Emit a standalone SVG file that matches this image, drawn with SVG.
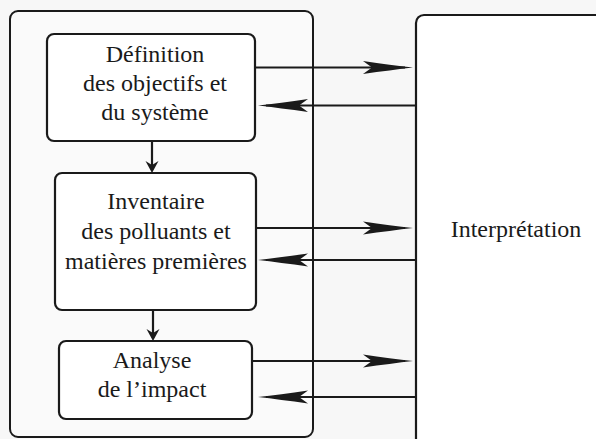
<svg xmlns="http://www.w3.org/2000/svg" width="596" height="439" viewBox="0 0 596 439">
<style>
.box{fill:#ffffff;stroke:#1a1a1a;stroke-width:2.2}
.outer{fill:#fafafa;stroke:#1a1a1a;stroke-width:2}
.lbl{font-size:24px;fill:#1a1a1a;text-anchor:middle}
.ln{stroke:#1a1a1a;stroke-width:2.2;fill:none}
</style>
<defs>
<marker id="big" markerUnits="userSpaceOnUse" viewBox="-52 -8 54 16" markerWidth="54" markerHeight="16" refX="-8" refY="0" orient="auto">
<path d="M0,0 Q-22,-2.5 -50,-6.5 L-41,0 L-50,6.5 Q-22,2.5 0,0 Z" fill="#1a1a1a"/>
</marker>
<marker id="small" markerUnits="userSpaceOnUse" viewBox="-13 -8 14 16" markerWidth="14" markerHeight="16" refX="-3" refY="0" orient="auto">
<path d="M0,0 L-12,-6.5 L-8,0 L-12,6.5 Z" fill="#1a1a1a"/>
</marker>
</defs>
<rect width="596" height="439" fill="#f7f7f7"/>
<g id="phases">
<rect class="outer" x="10" y="11" width="303" height="426" rx="8"/>
</g>
<g font-family="'Liberation Serif', 'Times New Roman', 'DejaVu Serif', serif">
<g id="interpretation">
<rect class="box" x="416" y="15" width="200" height="440" rx="8"/>
<text class="lbl" x="516" y="237">Interprétation</text>
</g>
<g id="definition">
<rect class="box" x="47" y="34" width="208" height="107" rx="7"/>
<text class="lbl" x="155" y="62">Définition</text>
<text class="lbl" x="155" y="91">des objectifs et</text>
<text class="lbl" x="155" y="120">du système</text>
</g>
<g id="inventaire">
<rect class="box" x="55" y="173" width="201" height="137" rx="7"/>
<text class="lbl" x="156" y="209">Inventaire</text>
<text class="lbl" x="156" y="239">des polluants et</text>
<text class="lbl" x="156" y="269">matières premières</text>
</g>
<g id="analyse">
<rect class="box" x="59" y="341" width="193" height="78" rx="7"/>
<text class="lbl" x="152" y="368">Analyse</text>
<text class="lbl" x="152" y="397">de l’impact</text>
</g>
</g>
<g id="connectors">
<line class="ln" x1="152" y1="142" x2="152" y2="170" marker-end="url(#small)"/>
<line class="ln" x1="153" y1="311" x2="153" y2="338" marker-end="url(#small)"/>
<line class="ln" x1="255" y1="67.5" x2="405" y2="67.5" marker-end="url(#big)"/>
<line class="ln" x1="416" y1="105.5" x2="266" y2="105.5" marker-end="url(#big)"/>
<line class="ln" x1="256" y1="228" x2="405" y2="228" marker-end="url(#big)"/>
<line class="ln" x1="416" y1="260" x2="266" y2="260" marker-end="url(#big)"/>
<line class="ln" x1="252" y1="361" x2="405" y2="361" marker-end="url(#big)"/>
<line class="ln" x1="416" y1="397" x2="266" y2="397" marker-end="url(#big)"/>
</g>
</svg>
